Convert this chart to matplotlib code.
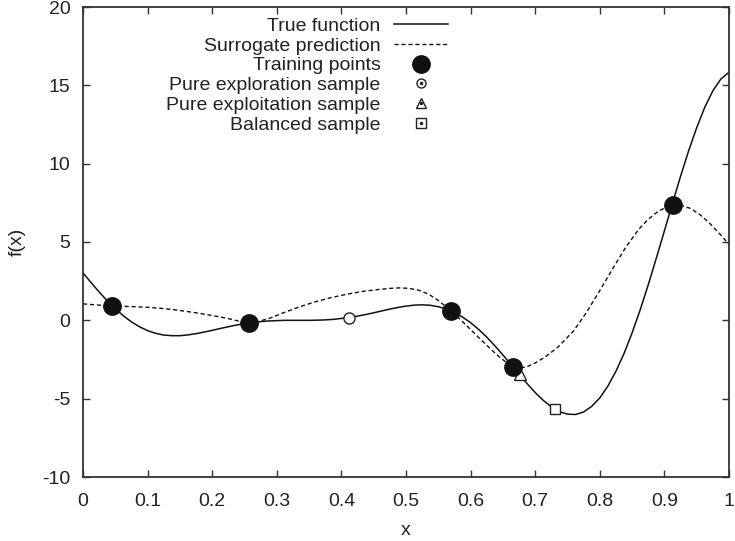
import matplotlib
matplotlib.use('Agg')
import matplotlib.pyplot as plt
from matplotlib.lines import Line2D
from matplotlib.ticker import MultipleLocator, FormatStrFormatter

plt.rcParams['font.family'] = ['Liberation Sans', 'DejaVu Sans']
plt.rcParams['axes.unicode_minus'] = False

# true function
true_x = [0.0, 0.0125, 0.025, 0.0375, 0.05, 0.0625, 0.075, 0.0875, 0.1, 0.1125,
          0.125, 0.1375, 0.15, 0.1625, 0.175, 0.1875, 0.2, 0.2125, 0.225, 0.2375,
          0.25, 0.2625, 0.275, 0.2875, 0.3, 0.3125, 0.325, 0.3375, 0.35, 0.3625,
          0.375, 0.3875, 0.4, 0.4125, 0.425, 0.4375, 0.45, 0.4625, 0.475, 0.4875,
          0.5, 0.5125, 0.525, 0.5375, 0.55, 0.5625, 0.575, 0.5875, 0.6, 0.6125,
          0.625, 0.6375, 0.65, 0.6625, 0.675, 0.6875, 0.7, 0.7125, 0.725, 0.7375,
          0.75, 0.7625, 0.775, 0.7875, 0.8, 0.8125, 0.825, 0.8375, 0.85, 0.8625,
          0.875, 0.8875, 0.9, 0.9125, 0.925, 0.9375, 0.95, 0.9625, 0.975, 0.9875, 1.0]
true_y = [3.03, 2.41, 1.81, 1.25, 0.74, 0.29, -0.10, -0.41, -0.66, -0.83,
          -0.94, -0.98, -0.98, -0.93, -0.85, -0.75, -0.64, -0.52, -0.41, -0.30,
          -0.21, -0.14, -0.08, -0.04, -0.02, 0.0, 0.0, 0.0, 0.0, 0.01,
          0.03, 0.06, 0.12, 0.18, 0.27, 0.37, 0.48, 0.60, 0.72, 0.82,
          0.91, 0.97, 0.99, 0.96, 0.87, 0.72, 0.50, 0.21, -0.15, -0.58,
          -1.07, -1.62, -2.21, -2.82, -3.44, -4.04, -4.61, -5.11, -5.52, -5.83,
          -5.99, -6.01, -5.85, -5.49, -4.95, -4.20, -3.25, -2.12, -0.80, 0.67,
          2.27, 3.97, 5.71, 7.47, 9.19, 10.82, 12.30, 13.60, 14.65, 15.41, 15.83]

# surrogate prediction (dashed)
sur_x = [0.0, 0.025, 0.045, 0.075, 0.1, 0.125, 0.15, 0.175, 0.2, 0.225,
         0.245, 0.257, 0.27, 0.29, 0.31, 0.335, 0.36, 0.385, 0.41, 0.435,
         0.46, 0.475, 0.49, 0.505, 0.52, 0.535, 0.55, 0.57, 0.59, 0.615,
         0.64, 0.655, 0.666, 0.676, 0.688, 0.7, 0.715, 0.735, 0.76, 0.78,
         0.8, 0.82, 0.84, 0.86, 0.875, 0.89, 0.902, 0.914, 0.926, 0.94,
         0.955, 0.97, 0.985, 1.0]
sur_y = [1.05, 0.97, 0.91, 0.88, 0.83, 0.75, 0.63, 0.48, 0.31, 0.11,
         -0.09, -0.17, -0.10, 0.15, 0.48, 0.86, 1.19, 1.46, 1.68, 1.86,
         1.98, 2.04, 2.07, 2.04, 1.92, 1.67, 1.27, 0.60, -0.18, -1.20,
         -2.18, -2.68, -2.98, -3.05, -2.95, -2.72, -2.35, -1.72, -0.65, 0.55,
         1.90, 3.30, 4.65, 5.80, 6.45, 6.95, 7.20, 7.34, 7.33, 7.15,
         6.75, 6.20, 5.55, 4.85]

train_x = [0.045, 0.257, 0.570, 0.666, 0.914]
train_y = [0.91, -0.17, 0.60, -2.98, 7.34]

explore_x, explore_y = [0.412], [0.17]
exploit_x, exploit_y = [0.676], [-3.42]
balanced_x, balanced_y = [0.731], [-5.64]

labels = ['True function', 'Surrogate prediction', 'Training points',
          'Pure exploration sample', 'Pure exploitation sample', 'Balanced sample']

ink = '#111111'
dash = (0, (3, 2))

fig = plt.figure(figsize=(7.35, 5.41), dpi=100)
ax = fig.add_axes([83 / 735, 64 / 541, 646 / 735, 470 / 541])

ax.plot(true_x, true_y, color=ink, lw=1.1, zorder=2)
ax.plot(sur_x, sur_y, color=ink, lw=1.0, ls=dash, zorder=2)
ax.plot(train_x, train_y, ls='none', marker='o', ms=12.5, color=ink, zorder=4)
ax.plot(explore_x, explore_y, ls='none', marker='o', ms=8, mfc='white', mec='#222', mew=1.0, zorder=3)
ax.plot(exploit_x, exploit_y, ls='none', marker='^', ms=8, mfc='white', mec='#222', mew=1.0, zorder=3)
ax.plot(balanced_x, balanced_y, ls='none', marker='s', ms=7.5, mfc='white', mec='#222', mew=1.0, zorder=3)

ax.set_xlim(0, 1)
ax.set_ylim(-10, 20)
ax.xaxis.set_major_locator(MultipleLocator(0.1))
ax.yaxis.set_major_locator(MultipleLocator(5))
ax.xaxis.set_major_formatter(FormatStrFormatter('%g'))
ax.yaxis.set_major_formatter(FormatStrFormatter('%g'))
ax.tick_params(direction='in', length=5, width=1.0, colors='#333333',
               labelcolor='#222222', labelsize=14, top=True, right=True)
ax.tick_params(axis='x', pad=11.5)
ax.tick_params(axis='y', pad=9)
for s in ax.spines.values():
    s.set_color('#333333')
    s.set_linewidth(1.3)

ax.set_xlabel('x', fontsize=14, color='#222222', labelpad=9)
ax.set_ylabel('f(x)', fontsize=14, color='#222222', labelpad=12)

# legend handles
dot = Line2D([], [], ls='none', marker='o', ms=1.5, color='#222')
handles = [
    Line2D([], [], color=ink, lw=1.1),
    Line2D([], [], color=ink, lw=1.0, ls=dash),
    Line2D([], [], ls='none', marker='o', ms=12.5, color=ink),
    (Line2D([], [], ls='none', marker='o', ms=6.5, mfc='white', mec='#222', mew=1.0), dot),
    (Line2D([], [], ls='none', marker='^', ms=6.5, mfc='white', mec='#222', mew=1.0), dot),
    (Line2D([], [], ls='none', marker='s', ms=6.5, mfc='white', mec='#222', mew=1.0), dot),
]
leg = ax.legend(handles, labels, markerfirst=False, frameon=False,
                loc='upper right', bbox_to_anchor=(0.565, 0.978),
                borderpad=0, borderaxespad=0, handlelength=2.8,
                handletextpad=0.67, labelspacing=0.11, fontsize=14)
for t in leg.get_texts():
    t.set_color('#222222')

fig.savefig('out.png', dpi=100)
